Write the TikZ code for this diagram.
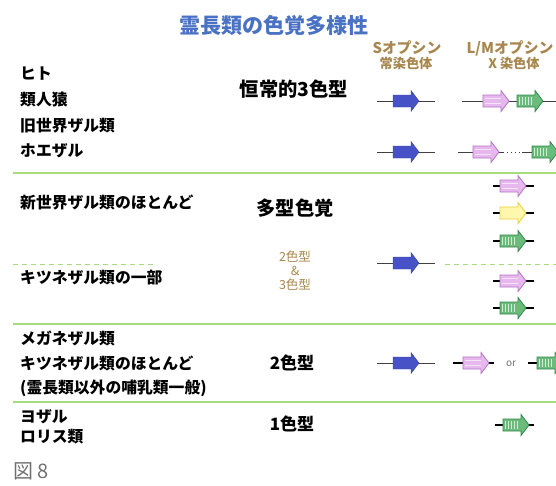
\documentclass[tikz,border=0pt]{standalone}
\usepackage{fontspec}
\newfontfamily\jp{Noto Sans CJK JP}
\definecolor{titleblue}{HTML}{4A72C4}
\definecolor{tanc}{HTML}{A8874E}
\definecolor{sepc}{HTML}{A6DB7E}
\definecolor{sblue}{HTML}{4652C6}
\definecolor{pinkf}{HTML}{E6B8EE}
\definecolor{pinkd}{HTML}{B574C4}
\definecolor{yelf}{HTML}{FFF7AE}
\definecolor{yeld}{HTML}{E6CF3A}
\definecolor{grnf}{HTML}{6DBB7C}
\definecolor{grnd}{HTML}{2F8A4C}
\definecolor{figgray}{HTML}{707070}
\tikzset{
  lab/.style={anchor=west,inner sep=0pt,font=\jp\bfseries\fontsize{15.8}{17}\selectfont},
  big/.style={inner sep=0pt,font=\jp\bfseries\fontsize{19.3}{21}\selectfont},
  mid/.style={inner sep=0pt,font=\jp\bfseries\fontsize{17}{19}\selectfont},
  head/.style={inner sep=0pt,text=tanc,font=\jp\bfseries\fontsize{14.8}{16}\selectfont},
  headsub/.style={inner sep=0pt,text=tanc,font=\jp\bfseries\fontsize{13.2}{14}\selectfont},
  small/.style={inner sep=0pt,text=tanc,font=\jp\fontsize{12.5}{13}\selectfont},
  sepline/.style={draw=sepc,line width=1.1pt},
  dashsep/.style={draw=sepc,line width=1pt,dash pattern=on 5pt off 4pt},
  longline/.style={draw=black!75,line width=0.6pt},
  stub/.style={draw=black,line width=1.5pt},
  sgene/.style={fill=sblue,draw=sblue!80!black,line width=0.4pt},
  pgene/.style={fill=pinkf,draw=pinkd,line width=0.8pt},
  ygene/.style={fill=yelf,draw=yeld,line width=0.8pt},
  ggene/.style={fill=grnf,draw=grnd,line width=0.8pt},
}
% #1 x of box start, #2 y centre, #3 style, #4 stripe style
\newcommand\garrow[4]{%
  \draw[#3] (#1,#2-6) -- ++(18,0) -- ++(0,-4.5) -- ++(8,10.5) -- ++(-8,10.5) -- ++(0,-4.5) -- ++(-18,0) -- cycle;
  \foreach \k in {2.5,5.5,8.5,11.5,14.5}{\draw[#4,line width=0.9pt] (#1+\k,#2-4) -- (#1+\k,#2+4);}
}
\newcommand\parrow[2]{%
  \draw[pgene] (#1,#2-6) -- ++(18,0) -- ++(0,-4.5) -- ++(8,10.5) -- ++(-8,10.5) -- ++(0,-4.5) -- ++(-18,0) -- cycle;
  \draw[white!60!pinkf,line width=0.8pt] (#1+2,#2-2.2) -- (#1+18,#2-2.2) (#1+2,#2+2.2) -- (#1+18,#2+2.2);
}
\begin{document}
\begin{tikzpicture}[x=1pt,y=-1pt]
\useasboundingbox[fill=white] (0,0) rectangle (556,485);
% title and headers
\node[inner sep=0pt,text=titleblue,font=\jp\bfseries\fontsize{21.1}{23}\selectfont] (title) at (274,25) {霊長類の色覚多様性};
\node[head] (sop) at (407,48) {Sオプシン};
\node[headsub] (sch) at (406,63) {常染色体};
\node[head] (lmop) at (510,48) {L/Mオプシン};
\node[headsub] (xch) at (514,63) {X 染色体};
% left labels
\node[lab] (l1) at (20,74) {ヒト};
\node[lab] (l2) at (20,100) {類人猿};
\node[lab] (l3) at (20,126) {旧世界ザル類};
\node[lab] (l4) at (20,151) {ホエザル};
\node[lab] (l5) at (20,203) {新世界ザル類のほとんど};
\node[lab] (l6) at (20,278) {キツネザル類の一部};
\node[lab] (l7) at (20,338) {メガネザル類};
\node[lab] (l8) at (20,363) {キツネザル類のほとんど};
\node[lab] (l9) at (20,388) {(霊長類以外の哺乳類一般)};
\node[lab] (l10) at (20,417) {ヨザル};
\node[lab] (l11) at (20,437) {ロリス類};
% type labels
\node[big] (t3) at (294,89) {恒常的3色型};
\node[big] (tpoly) at (295,208) {多型色覚};
\node[small] (t23a) at (295,257) {2色型};
\node[small] (t23b) at (295,271) {\&};
\node[small] (t23c) at (295,285) {3色型};
\node[mid] (t2) at (292,363) {2色型};
\node[mid] (t1) at (292,424) {1色型};
\node[inner sep=0pt,anchor=west,text=figgray,font=\jp\fontsize{20}{22}\selectfont] (fig) at (13,471) {図 8};
% separators
\draw[sepline] (13,173) -- (556,173);
\draw[sepline] (13,324) -- (556,324);
\draw[sepline] (13,402) -- (556,402);
\draw[dashsep] (13,264) -- (157,264);
\draw[dashsep] (445,264) -- (556,264);
% row: trichromat
\draw[longline] (377,101) -- (435,101);
\garrow{393}{101}{sgene}{draw=none}
\draw[longline] (462,101) -- (556,101);
\parrow{483}{101}
\garrow{517}{101}{ggene}{white!70!grnf}
% row: howler
\draw[longline] (377,152) -- (435,152);
\garrow{393}{152}{sgene}{draw=none}
\draw[longline] (458,152) -- (503,152);
\draw[black!75,line width=0.8pt,dash pattern=on 1pt off 3pt] (503,152) -- (522,152);
\draw[longline] (522,152) -- (556,152);
\parrow{473}{152}
\garrow{532}{152}{ggene}{white!70!grnf}
% polymorphic
\draw[longline] (377,263) -- (435,263);
\garrow{393}{263}{sgene}{draw=none}
\foreach \yy in {186,213,241,281,308}{\draw[stub] (493,\yy) -- (534,\yy);}
\parrow{500}{186}
\garrow{500}{213}{ygene}{draw=none}
\garrow{500}{241}{ggene}{white!70!grnf}
\parrow{500}{281}
\garrow{500}{308}{ggene}{white!70!grnf}
% dichromat
\draw[longline] (377,363) -- (435,363);
\garrow{393}{363}{sgene}{draw=none}
\draw[stub] (453,363) -- (494,363);
\parrow{463}{363}
\node[inner sep=0pt,text=black!55,font=\jp\fontsize{10}{11}\selectfont] (or) at (511,364) {or};
\draw[stub] (528,363) -- (556,363);
\garrow{537}{363}{ggene}{white!70!grnf}
% monochromat
\draw[stub] (495,425) -- (534,425);
\garrow{503}{425}{ggene}{white!70!grnf}
\end{tikzpicture}
\end{document}
